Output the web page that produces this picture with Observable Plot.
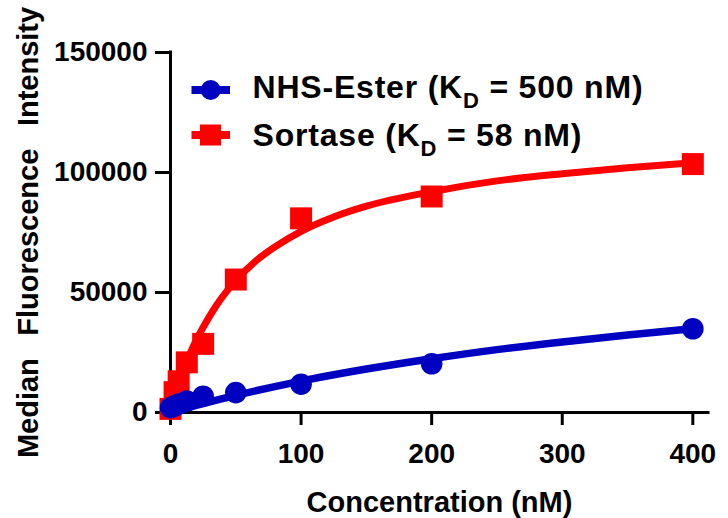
<!DOCTYPE html>
<html>
<head>
<meta charset="utf-8">
<script src="https://cdn.jsdelivr.net/npm/d3@7"></script>
<script src="https://cdn.jsdelivr.net/npm/@observablehq/plot@0.6"></script>
<style>
  html, body { margin: 0; padding: 0; background: #fff; }
  #chart { width: 728px; height: 518px; }
</style>
</head>
<body>
<div id="chart"></div>
<script>
// ---- Data ----
const seriesNames = ["NHS-Ester", "Sortase"];
const kdValues = [500, 58];
const seriesColors = ["#0000c0", "#ff0000"];

const conc = [0, 3.125, 6.25, 12.5, 25, 50, 100, 200, 400];
const nhsValues = [2000, 2800, 3500, 4800, 6800, 8300, 11800, 20300, 34900];
const sortaseValues = [1500, 8500, 13000, 20900, 28600, 55400, 80900, 90000, 103500];

const sortaseFitConc = [0, 3, 6, 10, 15, 20, 25, 35, 50, 65, 80, 100, 125, 150, 200, 250, 300, 350, 400];
const sortaseFit = [0, 5900, 11200, 17500, 24500, 30500, 35500, 44500, 55000, 63000, 69000, 75500, 81500, 86000, 92000, 96500, 99500, 102000, 104000];
const nhsFitConc = [0, 25, 50, 100, 150, 200, 250, 300, 350, 400];
const nhsFit = [0, 3700, 7100, 13100, 18100, 22400, 26200, 29400, 32300, 34900];

const xTicks = [0, 100, 200, 300, 400];
const yTicks = [0, 50000, 100000, 150000];
const xDomain = [0, 412];
const yDomain = [0, 150000];
const xLabel = "Concentration (nM)";
const yLabel = "Median\u2002 Fluorescence\u2002 Intensity";

// ---- Tables built from the arrays ----
const nhsPts = conc.map((c, i) => ({conc: c, value: nhsValues[i]}));
const sortasePts = conc.map((c, i) => ({conc: c, value: sortaseValues[i]}));
const nhsCurve = nhsFitConc.map((c, i) => ({conc: c, value: nhsFit[i]}));
const sortaseCurve = sortaseFitConc.map((c, i) => ({conc: c, value: sortaseFit[i]}));

const font = "'Liberation Sans', Arial, Helvetica, sans-serif";

const chart = Plot.plot({
  width: 728,
  height: 518,
  marginLeft: 170,
  marginRight: 20,
  marginTop: 52,
  marginBottom: 106,
  x: {domain: xDomain},
  y: {domain: yDomain},
  style: {fontFamily: font, fontWeight: "bold", background: "#fff", color: "#000", overflow: "visible"},
  marks: [
    Plot.axisX({ticks: xTicks, tickSize: 13, tickPadding: 18, fontSize: 28, strokeWidth: 3, label: null, tickFormat: "d"}),
    Plot.axisY({ticks: yTicks, tickSize: 15, tickPadding: 8, fontSize: 28, strokeWidth: 3, label: null, tickFormat: "d"}),
    Plot.ruleX([xDomain[0]], {y1: yDomain[0], y2: yDomain[1], stroke: "#000", strokeWidth: 3, strokeLinecap: "square"}),
    Plot.ruleY([yDomain[0]], {x1: xDomain[0], x2: xDomain[1], stroke: "#000", strokeWidth: 3, strokeLinecap: "square"}),
    Plot.line(sortaseCurve, {x: "conc", y: "value", stroke: seriesColors[1], strokeWidth: 7, curve: "monotone-x"}),
    Plot.dot(sortasePts, {x: "conc", y: "value", symbol: "square", r: 12.4, fill: seriesColors[1], stroke: null}),
    Plot.line(nhsCurve, {x: "conc", y: "value", stroke: seriesColors[0], strokeWidth: 7.5, curve: "monotone-x"}),
    Plot.dot(nhsPts, {x: "conc", y: "value", symbol: "circle", r: 10.8, fill: seriesColors[0], stroke: null}),
    Plot.text([xLabel], {text: d => d, frameAnchor: "bottom", lineAnchor: "middle", textAnchor: "middle", dy: 90, fontSize: 29, fontWeight: "bold", fill: "#000"}),
    Plot.text([yLabel], {text: d => d, frameAnchor: "left", lineAnchor: "middle", textAnchor: "middle", rotate: -90, dx: -142, fontSize: 29, fontWeight: "bold", fill: "#000"})
  ]
});

document.getElementById("chart").appendChild(chart);

// ---- Legend (inside the plot area, top-left) ----
const svg = d3.select(chart);
const legend = svg.append("g")
  .attr("font-family", font)
  .attr("font-weight", "bold")
  .attr("text-anchor", "start");
const rows = [
  {swY: 90, textY: 97.5},
  {swY: 135, textY: 146}
];
seriesNames.forEach((name, i) => {
  const r = rows[i];
  const g = legend.append("g");
  g.append("line")
    .attr("x1", 191.5).attr("x2", 230).attr("y1", r.swY).attr("y2", r.swY)
    .attr("stroke", seriesColors[i]).attr("stroke-width", 8);
  if (i === 0) {
    g.append("circle").attr("cx", 210.7).attr("cy", r.swY).attr("r", 10).attr("fill", seriesColors[i]);
  } else {
    g.append("rect").attr("x", 200).attr("y", r.swY - 10.5).attr("width", 21).attr("height", 21).attr("fill", seriesColors[i]);
  }
  const t = g.append("text")
    .attr("x", 252.5).attr("y", r.textY)
    .attr("text-anchor", "start")
    .attr("font-size", 32).attr("letter-spacing", 0.8).attr("fill", "#000");
  t.append("tspan").text(name + " (K");
  t.append("tspan").attr("font-size", 22).attr("dy", 10).text("D");
  t.append("tspan").attr("dy", -10).text(" = " + kdValues[i] + " nM)");
});
</script>
</body>
</html>
